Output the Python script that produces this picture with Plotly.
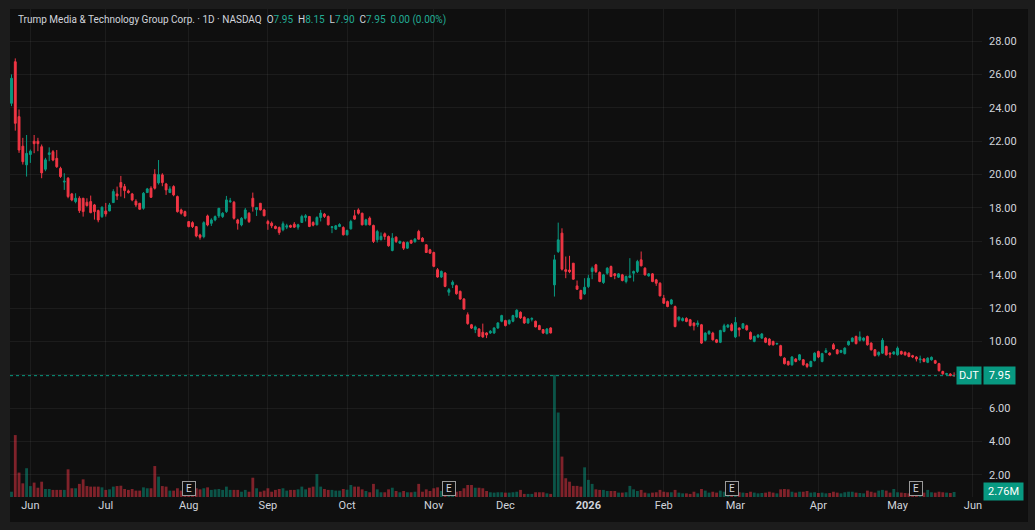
import pandas as pd
import plotly.graph_objects as go

# DJT daily candles, 2025-05-23 .. 2026-05-22
open_ = [
    24.27, 26.76, 23.47, 21.70, 20.58, 21.20, 22.00, 22.00, 21.67, 20.32,
    21.20, 21.37, 20.97, 20.37, 19.55, 19.78, 18.84, 18.38, 18.58, 18.58,
    18.34, 18.38, 18.18, 17.84, 17.48, 17.82, 17.82, 18.32, 18.84, 19.52,
    19.28, 19.02, 18.84, 18.40, 18.28, 17.98, 18.92, 19.18, 20.02, 19.50,
    19.98, 19.44, 18.92, 19.28, 18.68, 17.88, 17.78, 17.18, 17.12, 16.88,
    16.38, 16.28, 17.52, 17.08, 17.28, 17.52, 17.48, 17.78, 18.38, 18.34,
    17.28, 16.98, 17.38, 17.68, 18.58, 17.90, 18.28, 17.88, 17.19, 17.09,
    16.89, 16.83, 16.69, 16.85, 16.95, 17.03, 16.85, 17.13, 17.43, 17.49,
    17.13, 16.99, 17.43, 17.63, 17.49, 16.83, 16.73, 16.89, 16.83, 16.39,
    16.75, 17.53, 17.88, 17.68, 16.99, 17.39, 16.95, 16.09, 16.10, 16.45,
    16.29, 15.45, 16.25, 15.89, 15.93, 15.59, 16.05, 15.97, 16.59, 16.19,
    15.79, 15.49, 15.33, 14.30, 13.86, 14.10, 12.95, 13.40, 13.34, 13.00,
    12.54, 11.60, 11.00, 10.71, 10.75, 10.55, 10.51, 10.51, 10.51, 10.81,
    11.21, 11.25, 11.07, 11.21, 11.47, 11.75, 11.45, 11.11, 11.33, 11.21,
    10.95, 10.71, 10.47, 10.81, 13.39, 15.39, 16.49, 14.30, 14.28, 14.69,
    13.33, 13.05, 12.85, 13.29, 14.19, 14.59, 14.13, 13.53, 14.09, 14.49,
    14.05, 13.85, 13.99, 13.59, 13.83, 14.09, 14.19, 14.89, 14.39, 13.93,
    14.05, 13.69, 13.49, 12.59, 12.39, 12.25, 12.09, 11.30, 11.25, 11.38,
    11.30, 11.10, 11.00, 11.00, 10.07, 10.46, 10.50, 10.10, 9.95, 10.60,
    10.86, 11.00, 10.27, 10.80, 10.80, 10.94, 10.54, 10.00, 10.26, 10.20,
    10.20, 10.14, 10.00, 9.85, 9.75, 9.00, 8.80, 8.60, 8.95, 8.90,
    8.90, 8.65, 8.50, 8.85, 9.40, 8.80, 9.35, 9.30, 9.80, 9.50,
    9.35, 9.27, 9.80, 10.00, 10.30, 10.07, 10.07, 10.30, 9.90, 9.50,
    9.20, 9.30, 9.70, 9.30, 9.25, 9.20, 9.40, 9.35, 9.30, 9.15,
    9.07, 8.90, 8.95, 8.75, 8.90, 8.85, 8.67, 8.20, 8.03, 8.05,
    7.95,
]
high = [
    26.00, 26.96, 23.90, 22.20, 22.37, 21.50, 22.37, 22.20, 21.80, 21.00,
    21.63, 21.47, 21.47, 20.47, 20.08, 19.85, 18.90, 18.88, 18.70, 18.60,
    18.58, 18.74, 18.24, 17.90, 18.10, 18.30, 18.30, 19.12, 19.28, 19.92,
    19.44, 19.10, 18.90, 18.52, 18.30, 18.95, 19.20, 19.30, 20.32, 20.87,
    20.08, 19.50, 19.30, 19.36, 18.74, 17.96, 17.84, 17.20, 17.20, 16.90,
    16.45, 17.20, 17.60, 17.38, 17.55, 18.00, 17.75, 18.72, 18.60, 18.42,
    17.35, 17.45, 18.00, 17.75, 18.92, 18.06, 18.30, 17.95, 17.29, 17.19,
    16.95, 16.89, 17.19, 17.05, 17.00, 17.15, 17.05, 17.59, 17.63, 17.50,
    17.20, 17.50, 17.88, 17.70, 17.55, 16.89, 16.98, 17.08, 16.90, 16.70,
    17.29, 17.88, 17.98, 17.72, 17.35, 17.49, 17.00, 16.69, 16.53, 16.53,
    16.35, 16.49, 16.30, 16.05, 16.00, 15.99, 16.10, 16.20, 16.69, 16.25,
    15.83, 15.55, 15.38, 14.40, 14.25, 14.15, 13.20, 13.66, 13.40, 13.05,
    12.60, 11.74, 11.05, 10.95, 10.80, 11.07, 10.55, 10.68, 10.85, 11.15,
    11.60, 11.30, 11.32, 11.60, 11.93, 11.80, 11.50, 11.40, 11.45, 11.25,
    11.00, 10.75, 10.80, 10.85, 15.19, 17.12, 16.78, 15.09, 15.13, 14.70,
    13.65, 13.10, 13.79, 13.99, 14.49, 14.65, 14.20, 14.05, 14.45, 14.55,
    14.10, 14.10, 14.05, 13.95, 14.99, 14.25, 14.89, 15.39, 14.45, 14.10,
    14.10, 13.75, 13.55, 12.79, 12.45, 12.55, 12.15, 11.50, 11.45, 11.45,
    11.35, 11.15, 11.26, 11.05, 10.55, 10.68, 10.58, 10.15, 10.70, 11.06,
    11.05, 11.10, 11.46, 10.85, 11.10, 11.00, 10.60, 10.35, 10.45, 10.50,
    10.25, 10.20, 10.05, 9.92, 9.80, 9.05, 8.85, 9.12, 9.00, 9.25,
    8.95, 8.70, 8.85, 9.35, 9.45, 9.32, 9.60, 9.35, 9.90, 9.55,
    9.50, 9.65, 10.05, 10.25, 10.35, 10.60, 10.25, 10.35, 9.95, 9.55,
    9.40, 10.20, 9.75, 9.35, 9.42, 9.70, 9.45, 9.40, 9.35, 9.20,
    9.12, 9.15, 9.00, 9.05, 9.10, 8.90, 8.72, 8.25, 8.12, 8.10,
    8.15,
]
low = [
    24.10, 22.63, 21.30, 20.60, 19.88, 20.70, 21.28, 21.40, 19.78, 20.20,
    20.80, 20.80, 20.40, 19.80, 19.08, 18.58, 18.40, 18.28, 17.70, 17.48,
    18.08, 17.68, 17.30, 17.14, 17.40, 17.48, 17.80, 18.30, 18.48, 18.68,
    18.58, 18.86, 18.40, 18.06, 17.90, 17.90, 18.90, 18.60, 19.10, 19.40,
    19.30, 18.78, 18.90, 18.70, 17.72, 17.60, 17.48, 16.84, 16.80, 16.24,
    16.10, 16.18, 16.90, 16.92, 17.20, 17.40, 17.40, 17.70, 18.30, 17.30,
    16.70, 16.90, 17.30, 17.10, 17.78, 17.52, 17.85, 17.50, 16.69, 16.79,
    16.72, 16.39, 16.60, 16.73, 16.80, 16.80, 16.70, 17.10, 17.19, 16.85,
    16.90, 16.95, 17.19, 17.40, 16.95, 16.49, 16.68, 16.85, 16.35, 16.35,
    16.70, 17.29, 17.60, 16.95, 16.95, 16.95, 15.90, 15.93, 16.05, 16.09,
    15.68, 15.40, 15.90, 15.85, 15.48, 15.55, 15.85, 15.93, 16.10, 15.95,
    15.30, 15.25, 14.45, 13.82, 13.80, 13.25, 12.74, 13.20, 12.80, 12.50,
    11.90, 11.00, 10.75, 10.50, 10.28, 10.22, 10.20, 10.45, 10.45, 10.75,
    11.15, 10.90, 11.00, 11.15, 11.40, 11.35, 11.05, 11.05, 11.20, 10.85,
    10.68, 10.45, 10.42, 10.48, 12.69, 15.30, 14.25, 13.79, 14.09, 13.70,
    13.10, 12.50, 12.79, 13.20, 13.73, 14.10, 13.55, 13.45, 14.00, 13.85,
    13.73, 13.80, 13.60, 13.48, 13.79, 13.59, 14.10, 14.50, 13.95, 13.88,
    13.55, 13.33, 12.70, 12.25, 12.05, 12.20, 10.85, 11.20, 11.20, 11.15,
    10.90, 10.66, 10.86, 9.85, 10.00, 10.40, 10.05, 9.90, 9.90, 10.55,
    10.80, 10.60, 10.20, 10.30, 10.75, 10.65, 10.10, 9.95, 10.20, 10.15,
    9.90, 9.75, 9.75, 9.80, 9.10, 8.62, 8.55, 8.55, 8.75, 8.85,
    8.55, 8.40, 8.45, 8.80, 9.00, 8.75, 9.30, 9.15, 9.50, 9.22,
    9.30, 9.22, 9.75, 9.95, 9.82, 10.00, 10.00, 9.75, 9.45, 9.10,
    9.10, 9.25, 9.15, 9.00, 9.20, 9.15, 9.20, 9.15, 9.05, 9.00,
    8.80, 8.70, 8.75, 8.70, 8.85, 8.65, 8.20, 8.00, 7.98, 7.92,
    7.90,
]
close = [
    25.77, 23.07, 21.47, 20.77, 21.27, 21.40, 21.85, 21.85, 20.10, 20.88,
    21.30, 20.87, 20.47, 19.88, 19.60, 18.68, 18.48, 18.58, 17.84, 17.78,
    18.14, 17.72, 17.78, 17.28, 18.04, 17.64, 18.18, 18.98, 18.72, 19.24,
    19.04, 18.92, 18.48, 18.18, 17.92, 18.88, 19.14, 18.64, 19.18, 20.00,
    19.52, 19.08, 19.14, 18.78, 17.78, 17.68, 17.52, 16.88, 16.88, 16.32,
    16.24, 17.12, 16.98, 17.28, 17.48, 17.98, 17.68, 18.48, 18.42, 17.38,
    17.08, 17.38, 17.88, 17.18, 18.08, 18.02, 17.88, 17.53, 17.05, 16.93,
    16.77, 16.53, 17.05, 16.93, 16.85, 16.85, 16.99, 17.49, 17.53, 16.89,
    16.97, 17.43, 17.69, 17.49, 16.99, 16.87, 16.93, 17.01, 16.39, 16.65,
    17.19, 17.33, 17.68, 16.99, 17.29, 16.99, 15.99, 16.59, 16.30, 16.29,
    15.73, 16.19, 15.99, 15.99, 15.59, 15.93, 15.89, 16.13, 16.13, 15.99,
    15.33, 15.29, 14.50, 13.86, 14.20, 13.30, 13.10, 13.55, 12.86, 12.54,
    11.94, 11.07, 10.80, 10.87, 10.31, 10.27, 10.39, 10.61, 10.81, 11.11,
    11.55, 10.95, 11.27, 11.55, 11.87, 11.41, 11.11, 11.35, 11.37, 10.87,
    10.71, 10.51, 10.75, 10.51, 14.89, 16.09, 14.33, 14.20, 14.18, 13.73,
    13.13, 12.55, 13.25, 13.79, 14.39, 14.19, 13.59, 13.99, 14.39, 13.89,
    13.95, 14.05, 13.65, 13.89, 13.93, 14.19, 14.79, 14.53, 13.99, 14.05,
    13.59, 13.49, 12.73, 12.29, 12.09, 12.49, 10.89, 11.46, 11.37, 11.20,
    10.95, 10.94, 11.10, 9.90, 10.50, 10.60, 10.10, 9.95, 10.66, 10.94,
    10.98, 10.66, 11.14, 10.70, 11.06, 10.70, 10.14, 10.30, 10.38, 10.45,
    9.95, 9.80, 9.80, 9.88, 9.15, 8.67, 8.60, 9.07, 8.80, 9.20,
    8.60, 8.50, 8.80, 9.30, 9.07, 9.27, 9.45, 9.20, 9.55, 9.27,
    9.46, 9.60, 10.00, 10.20, 9.87, 10.27, 10.20, 9.80, 9.50, 9.15,
    9.35, 10.07, 9.20, 9.25, 9.37, 9.60, 9.25, 9.20, 9.10, 9.07,
    8.95, 8.95, 8.80, 9.00, 9.05, 8.70, 8.25, 8.07, 8.07, 7.95,
    7.95,
]
# volume, millions of shares
volume = [
    2.9, 34.0, 13.4, 7.5, 15.8, 6.0, 7.9, 5.1, 8.4, 4.4,
    4.4, 3.9, 3.9, 3.9, 3.9, 15.2, 4.8, 4.8, 7.2, 9.7,
    6.0, 5.7, 5.7, 5.7, 5.3, 3.9, 4.2, 5.7, 6.0, 6.2,
    4.4, 3.9, 4.4, 3.5, 3.5, 5.3, 4.8, 4.8, 17.0, 11.2,
    6.0, 5.7, 3.5, 3.5, 4.8, 3.5, 3.5, 3.0, 3.9, 4.8,
    4.2, 4.8, 5.3, 3.9, 4.2, 4.4, 3.9, 5.7, 3.9, 3.9,
    3.9, 2.9, 3.9, 2.9, 10.6, 4.8, 2.9, 3.5, 4.8, 2.9,
    3.9, 4.4, 4.8, 3.5, 3.9, 3.9, 4.2, 5.7, 4.2, 5.1,
    5.7, 12.6, 5.7, 4.4, 3.9, 3.9, 3.5, 3.5, 4.4, 4.0,
    6.6, 5.7, 5.7, 4.2, 3.3, 2.6, 7.2, 4.2, 2.6, 2.6,
    4.2, 5.1, 3.3, 2.6, 3.3, 2.6, 2.6, 2.9, 7.2, 2.9,
    4.2, 3.3, 4.8, 5.3, 3.3, 4.8, 2.9, 2.6, 2.9, 3.3,
    4.8, 6.6, 6.6, 5.1, 5.1, 4.8, 3.3, 2.6, 2.4, 2.6,
    2.6, 2.4, 2.4, 2.6, 2.9, 3.9, 1.7, 1.7, 1.7, 2.6,
    2.6, 2.6, 2.0, 1.7, 67.0, 46.4, 22.2, 10.3, 8.4, 6.1,
    6.1, 5.7, 16.3, 9.4, 7.2, 4.2, 3.9, 3.9, 3.3, 3.3,
    3.3, 2.4, 2.4, 2.6, 6.1, 4.2, 3.3, 3.9, 2.4, 2.0,
    2.4, 2.6, 3.9, 2.9, 2.6, 2.6, 3.9, 2.4, 2.0, 2.0,
    1.7, 2.9, 2.0, 4.4, 3.5, 2.4, 2.9, 2.4, 3.5, 2.9,
    2.4, 2.9, 3.5, 2.6, 2.4, 2.2, 2.9, 2.4, 2.0, 2.2,
    2.4, 2.9, 2.4, 2.0, 4.2, 4.4, 4.2, 2.9, 2.4, 2.9,
    2.9, 3.3, 2.4, 2.6, 2.2, 2.4, 2.0, 2.2, 2.9, 2.4,
    2.0, 2.6, 2.9, 2.9, 2.4, 2.2, 2.0, 3.5, 2.9, 2.4,
    3.5, 3.9, 3.5, 2.4, 4.4, 2.6, 2.4, 2.2, 2.0, 2.4,
    2.6, 2.2, 2.4, 3.9, 2.6, 2.4, 2.9, 2.6, 2.4, 2.2,
    2.76,
]

holidays = ["2025-05-26", "2025-06-19", "2025-07-04", "2025-09-01", "2025-11-27",
            "2025-12-25", "2026-01-01", "2026-01-19", "2026-02-16", "2026-04-03",
            "2026-05-25"]
earnings = ["2025-08-01", "2025-11-07", "2026-02-27", "2026-05-08"]
month_names = ["Jun", "Jul", "Aug", "Sep", "Oct", "Nov", "Dec", "<b>2026</b>",
               "Feb", "Mar", "Apr", "May", "Jun"]
price_ticks = [2, 4, 6, 8, 10, 12, 14, 16, 18, 20, 22, 24, 26, 28]

UP, DOWN = "#089981", "#f23645"
BG, FRAME = "#0f0f0f", "#1c1c1c"
GRID = "rgba(242,242,242,0.06)"
TEXT = "#d1d4dc"

n = len(close)
assert len(open_) == len(high) == len(low) == len(volume) == n
sessions = pd.bdate_range("2025-05-23", "2026-06-01", freq="C", holidays=holidays)
x = list(range(n))

# month ticks sit on the first session of each month (trading-bar index)
tick_pos = [k for k in range(1, len(sessions)) if sessions[k].month != sessions[k - 1].month]
vol_colors = ["rgba(8,153,129,0.5)" if c >= o else "rgba(242,54,69,0.5)"
              for o, c in zip(open_, close)]

fig = go.Figure()
fig.add_trace(go.Bar(x=x, y=volume, marker=dict(color=vol_colors, line=dict(width=0)),
                     yaxis="y2", hoverinfo="skip"))
fig.add_trace(go.Candlestick(
    x=x, open=open_, high=high, low=low, close=close,
    increasing=dict(line=dict(color=UP, width=1), fillcolor=UP),
    decreasing=dict(line=dict(color=DOWN, width=1), fillcolor=DOWN),
    whiskerwidth=0, hoverinfo="skip"))

last = close[-1]
chg = close[-1] - close[-2]
val = lambda s: "<span style='color:#22ab94'>" + s + "</span>"
sp = "\u00a0\u00a0"
header = ("Trump Media & Technology Group Corp. · 1D · NASDAQ" + sp +
          "O" + val("%.2f" % open_[-1]) + sp + "H" + val("%.2f" % high[-1]) + sp +
          "L" + val("%.2f" % low[-1]) + sp + "C" + val("%.2f" % close[-1]) + sp +
          val("%.2f (%.2f%%)" % (chg, chg / close[-2] * 100)))

annotations = [
    dict(text=header, xref="paper", yref="paper", x=0.006, y=0.977, xanchor="left",
         yanchor="middle", showarrow=False, font=dict(size=10, color=TEXT)),
    dict(text="DJT", xref="paper", yref="y", x=0.9995, y=last, xanchor="right",
         yanchor="middle", showarrow=False, bgcolor=UP, borderpad=2,
         font=dict(size=11, color="#ffffff")),
    dict(text="%.2f" % last, xref="paper", yref="y", x=1.001, y=last, xanchor="left",
         yanchor="middle", showarrow=False, bgcolor=UP, borderpad=2, width=27,
         font=dict(size=11, color="#ffffff")),
    dict(text="%.2fM" % volume[-1], xref="paper", yref="y2", x=1.001, y=volume[-1],
         xanchor="left", yanchor="middle", showarrow=False, bgcolor=UP, borderpad=2,
         width=35, font=dict(size=11, color="#ffffff")),
]
for d in earnings:
    annotations.append(dict(text="E", xref="x", yref="paper", x=sessions.get_loc(pd.Timestamp(d)),
                            y=0.018, xanchor="center", yanchor="middle", showarrow=False,
                            bgcolor=BG, bordercolor="#9a9a9a", borderwidth=1, borderpad=1,
                            width=10, font=dict(size=10, color=TEXT)))

fig.update_layout(
    width=1035, height=530,
    margin=dict(l=10, r=53, t=9, b=33),
    paper_bgcolor=FRAME, plot_bgcolor=BG,
    showlegend=False, bargap=0.25,
    font=dict(family="Roboto, Liberation Sans, Arial, sans-serif", size=11, color=TEXT),
    xaxis=dict(range=[-0.4, 257.4], tickvals=tick_pos, ticktext=month_names,
               showgrid=True, gridcolor=GRID, zeroline=False, showline=False, ticks="",
               rangeslider=dict(visible=False), fixedrange=True),
    yaxis=dict(side="right", range=[0.68, 29.92], tickvals=price_ticks, tickformat=".2f",
               showgrid=True, gridcolor=GRID, zeroline=False, showline=False, ticks="",
               ticklabelstandoff=6),
    yaxis2=dict(overlaying="y", range=[0, 268], visible=False),
    shapes=[
        dict(type="rect", xref="paper", yref="paper", x0=0, x1=1.0473, y0=-0.0512, y1=1.0,
             fillcolor=BG, line=dict(width=0), layer="below"),
        dict(type="line", xref="paper", yref="y", x0=0, x1=0.975, y0=last, y1=last,
             line=dict(color=UP, width=1, dash="dot")),
    ],
    annotations=annotations,
)

# the page body has a default 8px margin; drop it so the figure sits at 0,0
fig.write_html("out.html", config={"displayModeBar": False},
               post_script="document.body.style.margin='0';"
                           "document.body.style.background='" + FRAME + "';")
